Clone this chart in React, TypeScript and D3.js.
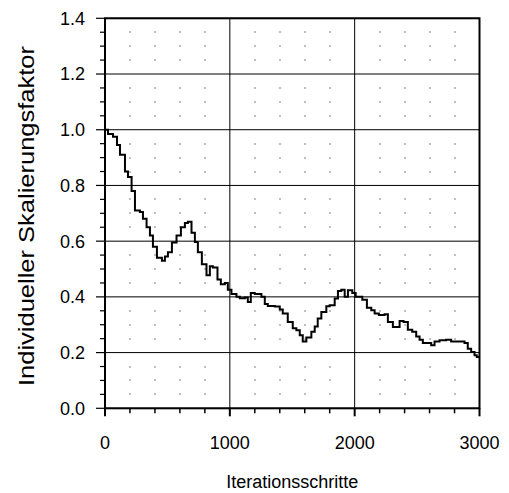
import React from "react";
import * as d3 from "d3";

// Step breakpoints: iteration where a step starts, and its value
const stepStarts = [
  0, 24, 64, 96, 120, 160, 184, 213, 240, 280, 304, 333, 360, 384, 416, 456, 480, 504, 536, 573,
  608, 640, 664, 693, 720, 744, 776, 813, 840, 864, 901, 928, 960, 984, 1013, 1053, 1080, 1120, 1144, 1168,
  1200, 1253, 1280, 1304, 1360, 1400, 1424, 1464, 1504, 1533, 1560, 1584, 1613, 1653, 1680, 1704, 1733, 1773, 1800, 1840,
  1866, 1893, 1920, 1946, 1981, 2008, 2061, 2098, 2133, 2160, 2194, 2240, 2266, 2306, 2360, 2392, 2426, 2461, 2493, 2520,
  2546, 2613, 2640, 2680, 2733, 2773, 2880, 2906, 2933, 2960, 2978,
];
const stepValues = [
  1.0, 0.985, 0.975, 0.945, 0.91, 0.85, 0.83, 0.78, 0.71, 0.705, 0.68, 0.65, 0.62, 0.58, 0.54, 0.53, 0.545, 0.56, 0.595, 0.62,
  0.65, 0.665, 0.67, 0.63, 0.597, 0.56, 0.517, 0.478, 0.51, 0.505, 0.462, 0.445, 0.45, 0.426, 0.41, 0.4, 0.395, 0.398, 0.382, 0.414,
  0.41, 0.4, 0.374, 0.367, 0.365, 0.355, 0.34, 0.31, 0.287, 0.28, 0.262, 0.24, 0.254, 0.275, 0.294, 0.322, 0.346, 0.366, 0.37, 0.394,
  0.421, 0.426, 0.4, 0.424, 0.414, 0.4, 0.39, 0.361, 0.352, 0.34, 0.335, 0.338, 0.31, 0.292, 0.313, 0.31, 0.282, 0.275, 0.258, 0.246,
  0.234, 0.226, 0.24, 0.244, 0.246, 0.24, 0.234, 0.214, 0.202, 0.19, 0.184,
];
const xEnd = 3000;

const xMajorTicks = [0, 1000, 2000, 3000];
const yMajorTicks = [0, 0.2, 0.4, 0.6, 0.8, 1.0, 1.2, 1.4];
const xTitle = "Iterationsschritte";
const yTitle = "Individueller Skalierungsfaktor";

export default function App() {
  const W = 509, H = 493;
  const left = 105, right = 479.5, top = 18.3, bottom = 408.3;
  const x = d3.scaleLinear().domain([0, 3000]).range([left, right]);
  const y = d3.scaleLinear().domain([0, 1.4]).range([bottom, top]);

  const xMinor = d3.range(0, 3001, 200);
  const yMinor = d3.range(0, 29).map((i) => i * 0.05);
  const isMajorX = (v: number) => Math.abs(v % 1000) < 1e-6;
  const isMajorY = (v: number) => Math.abs(Math.round(v * 5) - v * 5) < 1e-6;

  const pts: [number, number][] = stepStarts.map((s, i) => [s, stepValues[i]]);
  pts.push([xEnd, stepValues[stepValues.length - 1]]);
  const line = d3
    .line<[number, number]>()
    .x((d) => x(d[0]))
    .y((d) => y(d[1]))
    .curve(d3.curveStepAfter);

  const font = "Arial, 'Liberation Sans', Helvetica, sans-serif";

  const dots: JSX.Element[] = [];
  xMinor.forEach((xv) => {
    if (isMajorX(xv)) return;
    yMinor.forEach((yv) => {
      if (isMajorY(yv)) return;
      dots.push(
        <rect key={`d${xv}-${yv}`} x={Math.round(x(xv)) - 0.5} y={Math.round(y(yv)) - 0.5} width={1} height={1} fill="#000" />
      );
    });
  });

  return (
    <svg width={W} height={H} style={{ position: "absolute", left: 0, top: 0 }}>
      <rect width={W} height={H} fill="#fff" />
      {dots}
      {/* major gridlines */}
      {xMajorTicks.map((t) => (
        <line key={`gx${t}`} x1={x(t)} x2={x(t)} y1={top} y2={bottom} stroke="#000" strokeWidth={1} />
      ))}
      {yMajorTicks.map((t) => (
        <line key={`gy${t}`} x1={left} x2={right} y1={y(t)} y2={y(t)} stroke="#000" strokeWidth={1} />
      ))}
      {/* data */}
      <path d={line(pts) || ""} fill="none" stroke="#000" strokeWidth={2} />
      {/* frame */}
      <rect x={left} y={top} width={right - left} height={bottom - top} fill="none" stroke="#000" strokeWidth={2} />
      {/* x ticks */}
      {xMinor.map((t) => (
        <line key={`xt${t}`} x1={x(t)} x2={x(t)} y1={bottom} y2={bottom + (isMajorX(t) ? 8 : 5)} stroke="#000" strokeWidth={isMajorX(t) ? 2 : 1.5} />
      ))}
      {/* y ticks */}
      {yMinor.map((t) => (
        <line key={`yt${t}`} x1={left - (isMajorY(t) ? 9 : 5)} x2={left} y1={y(t)} y2={y(t)} stroke="#000" strokeWidth={1.2} />
      ))}
      {xMajorTicks.map((t) => (
        <text key={`xl${t}`} x={x(t)} y={449} textAnchor="middle" fontFamily={font} fontSize={18} fill="#000">
          {t}
        </text>
      ))}
      {yMajorTicks.map((t) => (
        <text key={`yl${t}`} x={85} y={y(t)} dy="0.36em" textAnchor="end" fontFamily={font} fontSize={18} fill="#000">
          {t.toFixed(1)}
        </text>
      ))}
      <text x={(left + right) / 2} y={488} textAnchor="middle" fontFamily={font} fontSize={18} fill="#000">
        {xTitle}
      </text>
      <text
        transform={`translate(34, 216) rotate(-90)`}
        textAnchor="middle"
        fontFamily={font}
        fontSize={22}
        textLength={340}
        lengthAdjust="spacingAndGlyphs"
        fill="#000"
      >
        {yTitle}
      </text>
    </svg>
  );
}
